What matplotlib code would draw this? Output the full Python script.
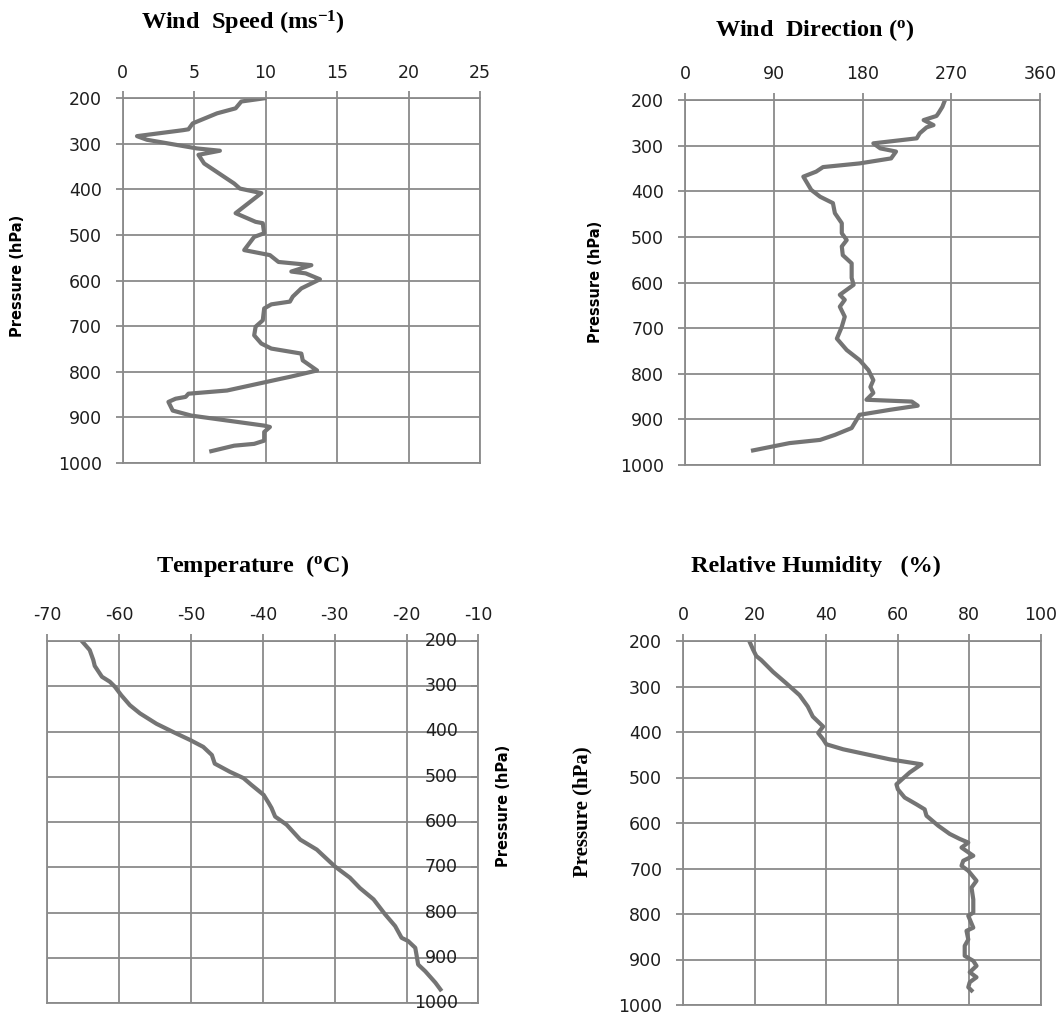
import matplotlib
matplotlib.use("Agg")
import matplotlib.pyplot as plt
from matplotlib.transforms import offset_copy

plt.rcParams['mathtext.default'] = 'regular'
plt.rcParams['axes.unicode_minus'] = False

# wind speed (m/s) vs pressure (hPa)
ws_speed = [9.9, 8.3, 7.9, 6.6, 4.9, 4.6, 4.2, 1.0, 1.7, 5.2, 6.8, 5.3, 5.7, 7.8, 8.2,
            9.7, 7.9, 9.3, 9.8, 9.9, 9.2, 8.5, 10.3, 10.9, 13.2, 11.8, 12.8, 13.8, 12.5,
            11.9, 11.7, 10.4, 9.9, 9.8, 9.3, 9.2, 9.7, 10.4, 12.5, 12.6, 13.6, 11.7, 11.1,
            7.3, 4.6, 4.4, 3.7, 3.2, 3.5, 4.8, 9.9, 10.3, 9.9, 9.9, 9.2, 7.8, 6.2]
ws_pres = [200, 207, 222, 233, 255, 268, 270, 283, 291, 310, 315, 324, 343, 387, 398,
           408, 452, 471, 474, 496, 504, 533, 544, 559, 566, 580, 584, 597, 617,
           635, 646, 652, 661, 687, 701, 720, 738, 749, 760, 775, 797, 811, 815,
           841, 848, 855, 859, 866, 885, 896, 918, 921, 932, 951, 958, 962, 974]

# wind direction (deg) vs pressure
wd_dir = [263.5, 261, 257, 255, 242, 252, 245, 238, 235, 191, 198, 214, 209, 177, 140,
          133, 120, 128, 137, 150, 152, 159, 159, 164, 159, 160, 169, 169, 171, 164,
          157, 162, 157, 162, 159, 154, 164, 177, 186, 191, 188, 191, 184, 230, 236,
          208, 177, 174, 169, 152, 137, 106, 69]
wd_pres = [201, 215, 229, 235, 244, 255, 260, 273, 284, 295, 306, 313, 328, 339, 347,
           357, 368, 397, 412, 426, 448, 470, 492, 507, 521, 540, 558, 590, 605, 616,
           627, 638, 653, 675, 697, 723, 748, 770, 792, 814, 829, 842, 857, 861, 870,
           879, 890, 901, 919, 934, 945, 952, 968]

# temperature (C) vs pressure
t_temp = [-65.2, -64.1, -63.6, -63.4, -62.4, -61.3, -60.6, -59.7, -58.5, -57.1, -54.8,
          -52.5, -50.1, -48.3, -47.1, -46.7, -44.6, -42.7, -41.6, -39.9, -39.2, -38.8,
          -38.3, -36.7, -34.8, -32.5, -30.0, -27.9, -26.5, -24.6, -23.0, -21.6, -20.7,
          -19.8, -18.8, -18.6, -18.4, -17.4, -16.0, -15.3]
t_pres = [200, 220, 242, 255, 279, 290, 301, 320, 342, 360, 383,
          401, 419, 434, 452, 471, 489, 503, 518, 540, 558, 569,
          588, 606, 639, 661, 698, 723, 746, 771, 804, 830, 856,
          863, 878, 896, 915, 930, 955, 970]

# relative humidity (%) vs pressure
rh_val = [18.7, 19.6, 20.5, 21.9, 25.2, 28.9, 32.6, 34.9, 36.3, 39.2, 37.8, 39.2, 40.1,
          44.8, 51.3, 57.8, 66.7, 63.4, 59.7, 60.1, 62.0, 65.3, 67.6, 68.1, 71.4, 74.6,
          77.4, 79.8, 77.9, 81.2, 78.4, 77.9, 79.8, 82.1, 80.7, 81.2, 81.2, 79.8, 81.2,
          79.3, 79.8, 78.8, 78.8, 81.2, 82.1, 80.2, 82.1, 80.2, 79.8, 80.7]
rh_pres = [203, 219, 233, 242, 268, 293, 319, 344, 366, 388, 402, 416, 427,
           438, 449, 460, 471, 489, 515, 526, 544, 559, 570, 584, 606, 624,
           635, 643, 654, 672, 683, 694, 705, 727, 742, 768, 797, 804, 830,
           837, 856, 870, 892, 903, 914, 928, 939, 950, 961, 968]

pres_ticks = [200, 300, 400, 500, 600, 700, 800, 900, 1000]

W, H = 1063, 1016
GRID = '#8a8a8a'
LINE = '#747474'
TICKFONT = 12.5
TICKCOL = '#1e1e1e'

fig = plt.figure(figsize=(W / 100, H / 100), dpi=100)


def add_ax(x0, x1, y0, y1):
    # pixel box -> figure fraction
    return fig.add_axes([x0 / W, 1 - y1 / H, (x1 - x0) / W, (y1 - y0) / H])


def style(ax, xlim, xticks, left_labels=True):
    ax.set_xlim(*xlim)
    ax.set_ylim(1000, 200)
    ax.set_xticks(xticks)
    ax.set_yticks(pres_ticks)
    ax.xaxis.tick_top()
    ax.grid(True, color=GRID, linewidth=1.3)
    for s in ax.spines.values():
        s.set_color(GRID)
        s.set_linewidth(1.3)
    ax.tick_params(axis='x', direction='out', length=5, width=1.3, color=GRID,
                   pad=7, labelsize=TICKFONT, labelcolor=TICKCOL)
    if left_labels:
        ax.tick_params(axis='y', direction='out', length=5, width=1.3, color=GRID,
                       pad=10, labelsize=TICKFONT, labelcolor=TICKCOL)
    ax.set_axisbelow(True)


def title(x, y, s):
    fig.text(x / W, 1 - y / H, s, ha='center', va='center', fontsize=17.5,
             fontweight='bold', family='Liberation Serif')


def ylab(x, y, fam='DejaVu Sans', size=10.5):
    fig.text(x / W, 1 - y / H, 'Pressure (hPa)', rotation=90, ha='center', va='center',
             fontsize=size, fontweight='bold', family=fam)


# wind speed
ax1 = add_ax(122.7, 480, 98.3, 463)
style(ax1, (0, 25), [0, 5, 10, 15, 20, 25])
ax1.plot(ws_speed, ws_pres, color=LINE, linewidth=3)
title(243, 23, 'Wind  Speed (ms$^{-1}$)')
ylab(18, 276)

# wind direction
ax2 = add_ax(685, 1040, 100, 465)
style(ax2, (0, 360), [0, 90, 180, 270, 360])
ax2.plot(wd_dir, wd_pres, color=LINE, linewidth=3)
title(815, 30, 'Wind  Direction ($^{o}$)')
ylab(596, 282)

# temperature: pressure labels sit inside, left of the right spine
ax3 = add_ax(47.3, 478.5, 641, 1003)
style(ax3, (-70, -10), [-70, -60, -50, -40, -30, -20, -10], left_labels=False)
ax3.tick_params(axis='y', left=False, labelleft=False, right=True, direction='in',
                length=5, width=1.3, color=GRID)
ax3.plot(t_temp, t_pres, color=LINE, linewidth=3)
tr = offset_copy(ax3.get_yaxis_transform(), fig=fig, x=-15, y=0, units='points')
for p in pres_ticks:
    ax3.text(1.0, p, str(p), transform=tr, ha='right', va='center',
             fontsize=TICKFONT, color=TICKCOL, clip_on=False)
title(253, 566, 'Temperature  ($^{o}$C)')
ylab(503, 806)

# relative humidity
ax4 = add_ax(683, 1040.5, 641, 1005)
style(ax4, (0, 100), [0, 20, 40, 60, 80, 100])
ax4.plot(rh_val, rh_pres, color=LINE, linewidth=3)
title(816, 566, 'Relative Humidity   (%)')
ylab(582, 812, fam='Liberation Serif', size=15)

fig.savefig('out.png', dpi=100)
